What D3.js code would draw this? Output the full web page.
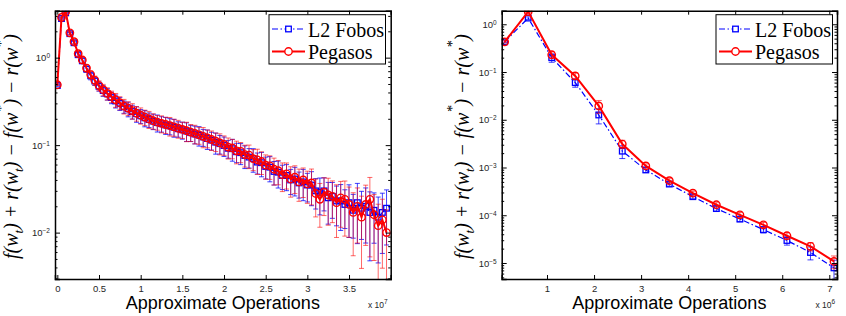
<!DOCTYPE html>
<html lang="en">
<head>
<meta charset="UTF-8">
<title>Objective gap vs operations</title>
<script src="https://d3js.org/d3.v7.min.js"></script>
<style>
    body { margin: 0; background: #fff; }
    svg { display: block; }
    .tick text { font-family: "Liberation Sans", Arial, sans-serif; font-size: 9.5px; fill: #262626; }
    .tick line, .domain { stroke: #000; }
</style>
</head>
<body>
<svg id="svg" width="846" height="316"></svg>
<script>

// ---------- left panel: x in units of 1e7 operations ----------
let leftX = [0,0.05,0.1,0.15,0.2,0.25,0.3,0.35,0.4,0.45,0.5,0.55,0.6,0.65,0.7,0.75,0.8,0.85,0.9,0.95,
    1,1.05,1.1,1.15,1.2,1.25,1.3,1.35,1.4,1.45,1.5,1.55,1.6,1.65,1.7,1.75,1.8,1.85,1.9,1.95,
    2,2.05,2.1,2.15,2.2,2.25,2.3,2.35,2.4,2.45,2.5,2.55,2.6,2.65,2.7,2.75,2.8,2.85,2.9,2.95,
    3,3.05,3.1,3.15,3.2,3.25,3.3,3.35,3.4,3.45,3.5,3.55,3.6,3.65,3.7,3.75,3.8,3.85,3.9,3.95];

let leftFobos = [0.48,2.80,3.25,1.88,1.48,1.08,0.92,0.74,0.62,0.54,
    0.47,0.42,0.385,0.35,0.32,0.30,0.275,0.26,0.242,0.228,
    0.216,0.205,0.196,0.188,0.181,0.176,0.170,0.166,0.160,0.154,
    0.150,0.145,0.139,0.134,0.130,0.124,0.119,0.114,0.108,0.104,
    0.099,0.092,0.091,0.084,0.082,0.076,0.073,0.070,0.064,0.063,
    0.057,0.056,0.050,0.049,0.045,0.045,0.040,0.041,0.037,0.038,
    0.035,0.035,0.030,0.029,0.030,0.025,0.026,0.023,0.023,0.021,
    0.022,0.018,0.022,0.019,0.020,0.017,0.018,0.015,0.017,0.019];

let leftPegasos = [0.49,2.88,3.35,1.92,1.52,1.11,0.94,0.76,0.64,0.55,
    0.48,0.43,0.39,0.36,0.33,0.305,0.28,0.265,0.248,0.232,
    0.22,0.209,0.199,0.19,0.183,0.177,0.172,0.167,0.162,0.156,
    0.151,0.146,0.141,0.136,0.131,0.126,0.121,0.116,0.111,0.106,
    0.102,0.095,0.093,0.086,0.085,0.078,0.077,0.070,0.068,0.065,
    0.059,0.058,0.053,0.051,0.046,0.047,0.041,0.043,0.038,0.040,
    0.036,0.037,0.028,0.024,0.029,0.027,0.026,0.022,0.025,0.024,
    0.021,0.017,0.020,0.015,0.021,0.024,0.016,0.012,0.014,0.010];

// relative half-widths of the error bars
let leftFobosErr = [0.02,0.02,0.02,0.03,0.04,0.05,0.07,0.08,0.10,0.11,
    0.12,0.14,0.15,0.15,0.17,0.17,0.16,0.19,0.18,0.20,
    0.18,0.21,0.19,0.20,0.22,0.20,0.22,0.21,0.23,0.20,
    0.22,0.24,0.21,0.23,0.25,0.22,0.25,0.23,0.27,0.24,
    0.25,0.23,0.28,0.25,0.27,0.29,0.25,0.30,0.27,0.31,
    0.28,0.32,0.30,0.34,0.31,0.33,0.32,0.36,0.33,0.39,
    0.36,0.42,0.38,0.45,0.41,0.50,0.44,0.48,0.54,0.47,
    0.60,0.52,0.66,0.56,0.62,0.72,0.58,0.70,0.66,0.62];

let leftPegasosErr = [0.02,0.02,0.02,0.03,0.04,0.06,0.08,0.09,0.10,0.12,
    0.13,0.15,0.16,0.15,0.18,0.17,0.19,0.18,0.20,0.19,
    0.21,0.20,0.22,0.20,0.19,0.22,0.21,0.24,0.22,0.23,
    0.21,0.25,0.22,0.24,0.22,0.26,0.23,0.25,0.24,0.27,
    0.25,0.27,0.25,0.29,0.26,0.28,0.30,0.27,0.32,0.29,
    0.31,0.30,0.34,0.31,0.36,0.33,0.38,0.35,0.40,0.37,
    0.40,0.44,0.46,0.52,0.46,0.55,0.50,0.60,0.54,0.62,
    0.58,0.68,0.62,0.74,0.66,0.78,0.70,0.76,0.72,0.82];

let leftXTicks = [0,0.5,1,1.5,2,2.5,3,3.5];
let leftYTicks = [0,-1,-2];   // exponents of 10

// ---------- right panel: x in units of 1e6 operations ----------
let rightX = [0.1,0.6,1.1,1.6,2.1,2.6,3.1,3.6,4.1,4.6,5.1,5.6,6.1,6.6,7.1];
let rightFobos = [0.43,1.35,0.20,0.060,0.0126,0.0022,0.00089,0.00045,0.000245,0.000138,
    0.0000832,0.00005,0.0000296,0.0000166,0.0000079];
let rightPegasos = [0.43,1.84,0.23,0.083,0.0195,0.0031,0.00108,0.00053,0.00029,0.000166,
    0.000102,0.000063,0.0000372,0.0000223,0.0000108];
let rightFobosErr = [0.05,0.06,0.20,0.20,0.35,0.30,0.12,0.10,0.10,0.12,0.12,0.15,0.20,0.30,0.45];
let rightPegasosErr = [0.05,0.05,0.15,0.15,0.30,0.20,0.10,0.10,0.10,0.10,0.12,0.12,0.15,0.20,0.30];

let rightXTicks = [1,2,3,4,5,6,7];
let rightYTicks = [0,-1,-2,-3,-4,-5];

let seriesNames = ['L2 Fobos', 'Pegasos'];

let svg = d3.select('#svg');
let defs = svg.append('defs');

function drawPanel(cfg) {
    let x = d3.scaleLinear().domain(cfg.xDomain).range([cfg.left, cfg.right]);
    let y = d3.scaleLog().domain(cfg.yDomain).range([cfg.bottom, cfg.top]);

    defs.append('clipPath').attr('id', cfg.id)
        .append('rect')
        .attr('x', cfg.left).attr('y', cfg.top)
        .attr('width', cfg.right - cfg.left).attr('height', cfg.bottom - cfg.top);

    let plot = svg.append('g').attr('clip-path', `url(#${cfg.id})`);

    let series = [
        {x: cfg.xs, y: cfg.fobos, err: cfg.fobosErr, color: '#0000ff', barOpacity: 0.75, marker: 'square', width: 1.2, dash: '6,2.5,1.5,2.5'},
        {x: cfg.xs, y: cfg.pegasos, err: cfg.pegasosErr, color: '#ff0000', barOpacity: 0.6, marker: 'circle', width: 2, dash: null}
    ];

    series.forEach(s => {
        let pts = s.y.map((v, i) => ({x: s.x[i], v: v, e: v * s.err[i]}));

        // error bars
        let eb = plot.append('g')
            .attr('stroke', s.color)
            .attr('stroke-opacity', s.barOpacity)
            .attr('stroke-width', 1);
        let lowFloor = cfg.yDomain[0] * 0.5;
        eb.selectAll('.bar').data(pts).enter().append('line')
            .attr('x1', d => x(d.x)).attr('x2', d => x(d.x))
            .attr('y1', d => y(Math.max(d.v - d.e, lowFloor)))
            .attr('y2', d => y(d.v + d.e));
        eb.selectAll('.capHi').data(pts).enter().append('line')
            .attr('x1', d => x(d.x) - cfg.cap).attr('x2', d => x(d.x) + cfg.cap)
            .attr('y1', d => y(d.v + d.e)).attr('y2', d => y(d.v + d.e));
        eb.selectAll('.capLo').data(pts.filter(d => d.v - d.e > 0)).enter().append('line')
            .attr('x1', d => x(d.x) - cfg.cap).attr('x2', d => x(d.x) + cfg.cap)
            .attr('y1', d => y(d.v - d.e)).attr('y2', d => y(d.v - d.e));

        // line
        let line = d3.line().x(d => x(d.x)).y(d => y(d.v));
        plot.append('path')
            .datum(pts)
            .attr('d', line)
            .attr('fill', 'none')
            .attr('stroke', s.color)
            .attr('stroke-width', s.width)
            .attr('stroke-dasharray', s.dash);

        // markers
        if (s.marker === 'square') {
            plot.append('g').selectAll('rect').data(pts).enter().append('rect')
                .attr('x', d => x(d.x) - 2.8).attr('y', d => y(d.v) - 2.8)
                .attr('width', 5.6).attr('height', 5.6)
                .attr('fill', 'none').attr('stroke', s.color).attr('stroke-width', 1.3);
        } else {
            plot.append('g').selectAll('circle').data(pts).enter().append('circle')
                .attr('cx', d => x(d.x)).attr('cy', d => y(d.v)).attr('r', 3.7)
                .attr('fill', 'none').attr('stroke', s.color).attr('stroke-width', 1.4);
        }
    });

    // axes (MATLAB box, ticks inward)
    svg.append('g')
        .attr('transform', `translate(0,${cfg.bottom})`)
        .call(d3.axisBottom(x).tickValues(cfg.xTicks).tickSize(-4).tickPadding(6).tickFormat(d3.format('')))
        .call(g => g.select('.domain').attr('stroke-width', 1.5));
    svg.append('g')
        .attr('transform', `translate(0,${cfg.top})`)
        .call(d3.axisTop(x).tickValues(cfg.xTicks).tickSize(-4).tickFormat(() => ''))
        .call(g => g.select('.domain').attr('stroke-width', 1.5));

    let majors = cfg.yTicks.map(p => Math.pow(10, p));
    let minors = [];
    let lo = Math.floor(Math.log10(cfg.yDomain[0])), hi = Math.ceil(Math.log10(cfg.yDomain[1]));
    for (let p = lo; p < hi; p++) {
        for (let m = 2; m <= 9; m++) {
            let v = m * Math.pow(10, p);
            if (v > cfg.yDomain[0] && v < cfg.yDomain[1]) minors.push(v);
        }
    }

    let yl = svg.append('g')
        .attr('transform', `translate(${cfg.left},0)`)
        .call(d3.axisLeft(y).tickValues(majors).tickSize(-5).tickFormat(() => ''))
        .call(g => g.select('.domain').attr('stroke-width', 1.5));
    yl.selectAll('.tick').each(function(d) {
        let t = d3.select(this).append('text')
            .attr('x', -5).attr('dy', '0.32em')
            .attr('text-anchor', 'end');
        t.append('tspan').text('10');
        t.append('tspan').attr('dy', '-0.45em').attr('font-size', '6.5px')
            .text(String(Math.round(Math.log10(d))).replace('-', '\u2212'));
    });
    svg.append('g')
        .attr('transform', `translate(${cfg.left},0)`)
        .call(d3.axisLeft(y).tickValues(minors).tickSize(-2.5).tickFormat(() => ''))
        .call(g => g.select('.domain').remove());

    svg.append('g')
        .attr('transform', `translate(${cfg.right},0)`)
        .call(d3.axisRight(y).tickValues(majors).tickSize(-5).tickFormat(() => ''))
        .call(g => g.select('.domain').attr('stroke-width', 1.5));
    svg.append('g')
        .attr('transform', `translate(${cfg.right},0)`)
        .call(d3.axisRight(y).tickValues(minors).tickSize(-2.5).tickFormat(() => ''))
        .call(g => g.select('.domain').remove());

    // x label
    svg.append('text')
        .attr('x', (cfg.left + cfg.right) / 2).attr('y', 309)
        .attr('text-anchor', 'middle')
        .style('font-family', '"Liberation Sans", Arial, sans-serif')
        .style('font-size', '18px')
        .text('Approximate Operations');

    // exponent
    let ex = svg.append('text')
        .attr('x', cfg.expX).attr('y', 307.5)
        .style('font-family', '"Liberation Sans", Arial, sans-serif')
        .style('font-size', '8.5px').style('fill', '#262626');
    ex.append('tspan').text('x 10');
    ex.append('tspan').attr('dy', -4).style('font-size', '6.5px').text(cfg.expPow);

    // y label
    let lab = svg.append('text')
        .attr('xml:space', 'preserve')
        .attr('transform', `translate(${cfg.ylabX},146.5) rotate(-90)`)
        .attr('text-anchor', 'middle')
        .style('font-family', '"Liberation Serif", "Times New Roman", serif')
        .style('font-style', 'italic')
        .style('font-size', '20px');
    let parts = [
        ['f(w', 0, null], ['t', 5, 13], [') + r(w', -5, null], ['t', 5, 13],
        [') \u2212 f(w', -5, null], ['*', -12, 14], [') \u2212 r(w', 12, null], ['*', -12, 14], [')', 12, null]
    ];
    parts.forEach(p => {
        let ts = lab.append('tspan').attr('dy', p[1]).text(p[0]);
        if (p[2]) ts.style('font-size', p[2] + 'px');
    });

    // legend
    let lg = svg.append('g');
    lg.append('rect')
        .attr('x', cfg.legX).attr('y', 14.7)
        .attr('width', 116.5).attr('height', 49.3)
        .attr('fill', '#fff').attr('stroke', '#000').attr('stroke-width', 1);
    seriesNames.forEach((name, i) => {
        let s = series[i];
        let cy = 29 + i * 22.5;
        let x0 = cfg.legX + 3, x1 = cfg.legX + 36, xm = (x0 + x1) / 2;
        lg.append('line')
            .attr('x1', x0).attr('x2', x1).attr('y1', cy).attr('y2', cy)
            .attr('stroke', s.color).attr('stroke-width', s.width)
            .attr('stroke-dasharray', s.dash);
        if (s.marker === 'square') {
            lg.append('rect').attr('x', xm - 2.8).attr('y', cy - 2.8)
                .attr('width', 5.6).attr('height', 5.6)
                .attr('fill', '#fff').attr('stroke', s.color).attr('stroke-width', 1.3);
        } else {
            lg.append('circle').attr('cx', xm).attr('cy', cy).attr('r', 3.7)
                .attr('fill', '#fff').attr('stroke', s.color).attr('stroke-width', 1.4);
        }
        lg.append('text')
            .attr('x', cfg.legX + 39).attr('y', cy + 7.5)
            .style('font-family', '"Liberation Serif", "Times New Roman", serif')
            .style('font-size', '20px')
            .text(name);
    });
}

drawPanel({
    id: 'clipL', left: 55, right: 390.7, top: 10.7, bottom: 279,
    xDomain: [-0.028, 4.0], yDomain: [0.00295, 3.44],
    xs: leftX, fobos: leftFobos, pegasos: leftPegasos,
    fobosErr: leftFobosErr, pegasosErr: leftPegasosErr,
    xTicks: leftXTicks, yTicks: leftYTicks, cap: 2.5,
    expX: 368, expPow: '7', ylabX: 18, legX: 269
});

drawPanel({
    id: 'clipR', left: 501.7, right: 837, top: 10.7, bottom: 279,
    xDomain: [0.037, 7.164], yDomain: [4.62e-6, 1.925],
    xs: rightX, fobos: rightFobos, pegasos: rightPegasos,
    fobosErr: rightFobosErr, pegasosErr: rightPegasosErr,
    xTicks: rightXTicks, yTicks: rightYTicks, cap: 3,
    expX: 815.5, expPow: '6', ylabX: 469, legX: 716
});

</script>
</body>
</html>
